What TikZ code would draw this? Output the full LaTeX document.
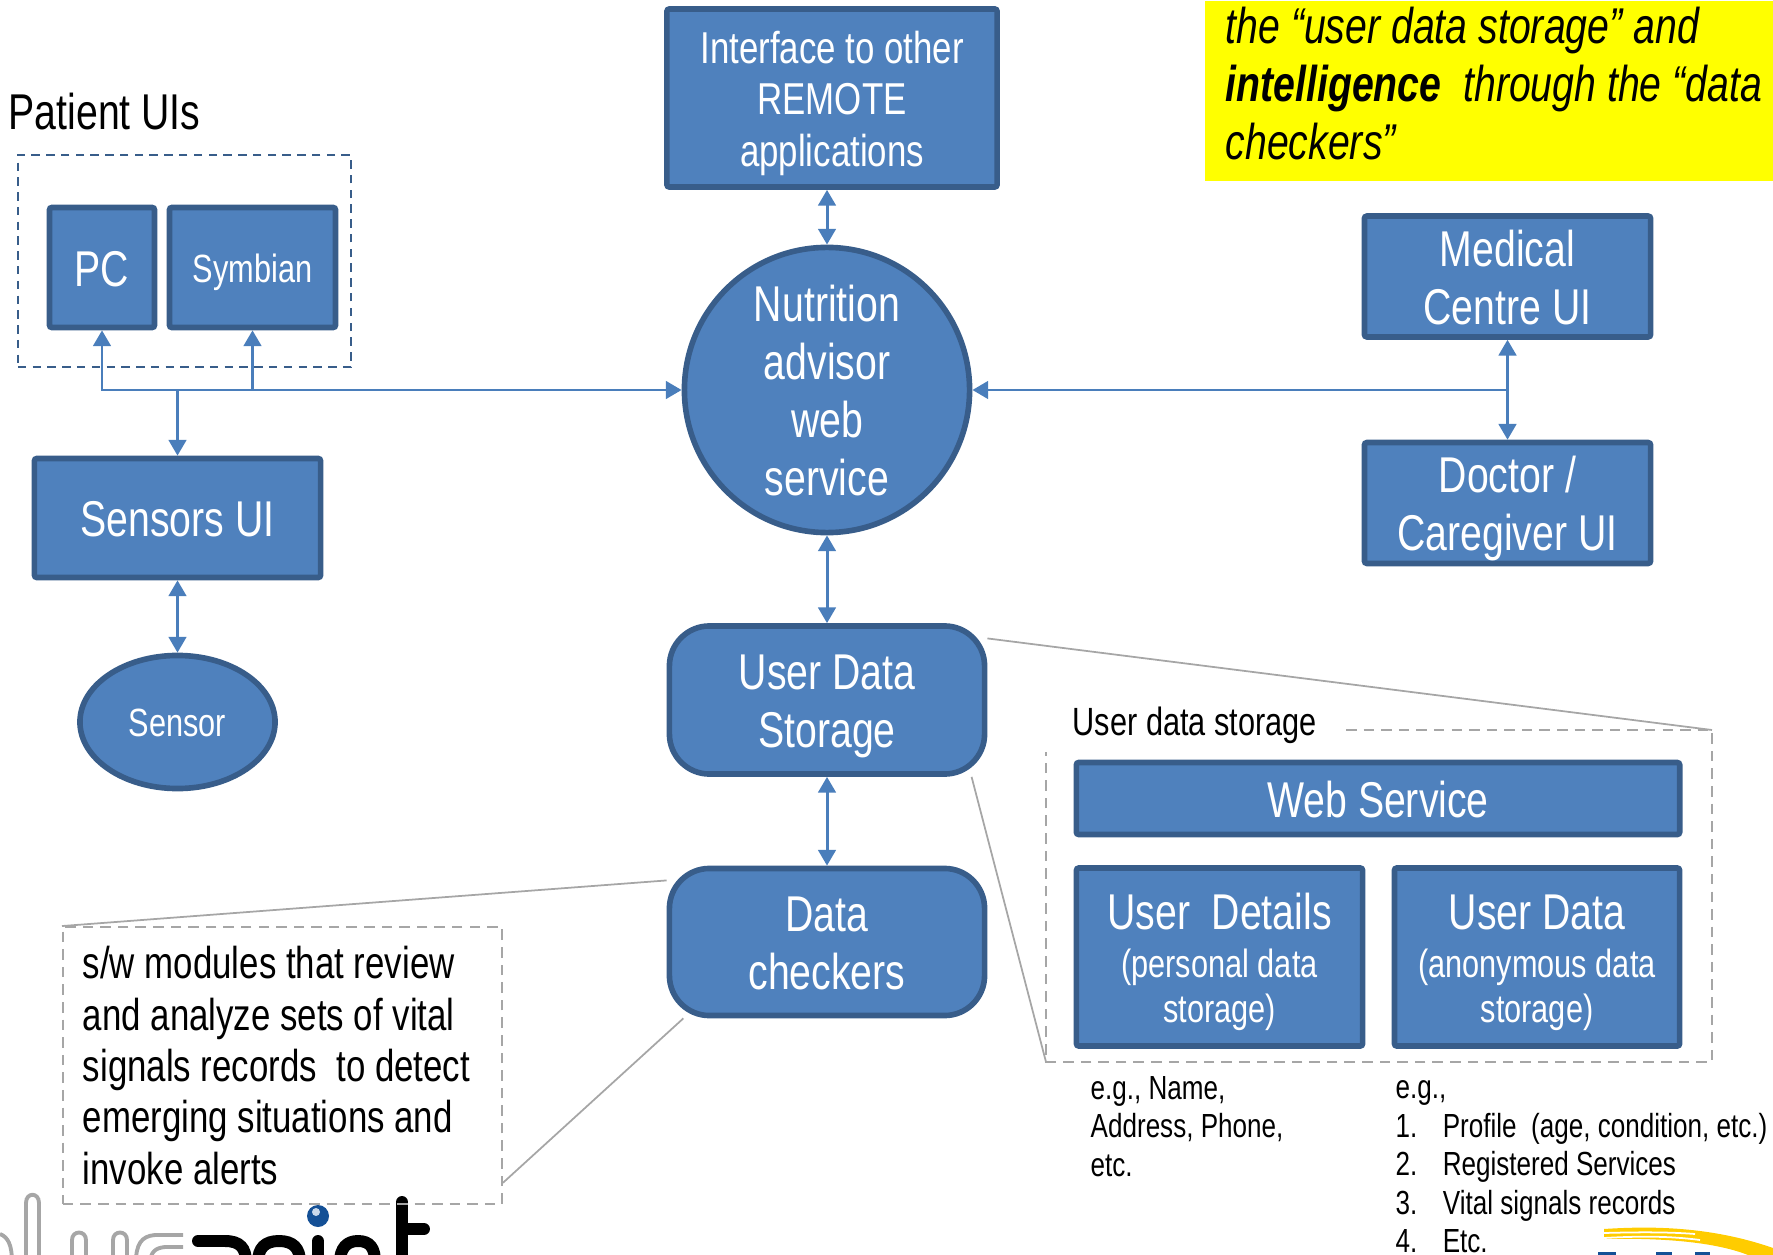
\documentclass[tikz,border=0pt]{standalone}
\usepackage{fontspec}
\setmainfont[FakeStretch=0.78]{Liberation Sans}
\usetikzlibrary{arrows.meta,shapes.geometric}
\definecolor{boxfill}{RGB}{79,129,189}
\definecolor{boxline}{RGB}{56,93,138}
\definecolor{linkline}{RGB}{74,126,187}
\definecolor{calloutline}{RGB}{166,166,166}
\definecolor{notefill}{RGB}{255,255,0}
\definecolor{swoosh}{RGB}{255,204,0}
\definecolor{logoblue}{RGB}{20,80,150}
\newcommand{\bigtxt}{\fontsize{14.3}{16.5}\selectfont}
\newcommand{\midtxt}{\fontsize{12.7}{14.6}\selectfont}
\newcommand{\smalltxt}{\fontsize{11.2}{12.8}\selectfont}
\newcommand{\listtxt}{\fontsize{9.5}{10.93}\selectfont}
\newcommand{\boxstrut}{\rule[-.25em]{0pt}{1.25em}}
\begin{document}
\begin{tikzpicture}[x=0.01cm,y=-0.01cm,>={Triangle[width=5pt,length=4.5pt]},
    box/.style={rectangle,rounded corners=0.7pt,draw=boxline,line width=1.6pt,fill=boxfill,text=white,align=center,inner sep=0pt,font=\bigtxt,
        execute at begin node=\boxstrut},
    roundbox/.style={box,rounded corners=0.4cm,minimum width=3.15cm},
    link/.style={draw=linkline,line width=0.85pt},
    callout/.style={draw=calloutline,line width=0.5pt},
    frame/.style={callout,dash pattern=on 3pt off 2pt},
    logoline/.style={calloutline,line width=1.1pt},
    logotext/.style={black,line width=3.4pt}]
    \useasboundingbox (0,0) rectangle (1773,1255);
    \begin{scope}
        \clip (0,1190) rectangle (1773,1255);
        \draw [logoline] (26,1262) -- (26,1203) .. controls (26,1192) and (39,1192) .. (39,1203) -- (39,1262);
        \draw [logoline] (0,1234) .. controls (8,1237) and (12,1245) .. (12,1262);
        \draw [logoline] (72,1262) -- (72,1240) .. controls (72,1230) and (86,1230) .. (86,1240) -- (86,1262);
        \draw [logoline] (113,1262) -- (113,1240) .. controls (113,1230) and (127,1230) .. (127,1240) -- (127,1262);
        \draw [logoline] (183,1235) -- (155,1235) .. controls (141,1236) and (136,1245) .. (136,1262);
        \draw [logoline] (183,1247) -- (165,1247) .. controls (155,1248) and (151,1252) .. (150,1262);
        \draw [logotext,line cap=round] (198,1241) -- (225,1241) .. controls (240,1241) and (246,1248) .. (246,1262);
        \draw [logotext] (258,1262) .. controls (258,1248) and (265,1241) .. (279,1241) .. controls (293,1241) and (300,1248) .. (300,1262);
        \draw [logotext,line cap=round] (318,1241) -- (318,1262);
        \draw [logotext] (340,1262) .. controls (340,1248) and (347,1241) .. (358,1241) .. controls (370,1241) and (375,1248) .. (375,1262);
        \draw [logotext,line cap=round] (402,1202) -- (402,1262);
        \draw [logotext,line cap=round] (402,1229) -- (424,1229);
        \fill [logoblue] (318,1216) circle (11);
        \fill [white!70!boxfill] (316,1212) circle (4);
        \fill [swoosh] (1604,1229) .. controls (1650,1226) and (1710,1226) .. (1773,1248) -- (1773,1255) -- (1748,1255) .. controls (1710,1240) and (1650,1238) .. (1604,1239) -- cycle;
        \draw [white,line width=0.5pt] (1604,1233) .. controls (1640,1232) and (1670,1232) .. (1695,1234);
        \draw [white,line width=0.5pt] (1604,1238) .. controls (1640,1236) and (1670,1236) .. (1700,1240);
        \fill [logoblue] (1598,1252) rectangle (1616,1255);
        \fill [logoblue] (1656,1252) rectangle (1672,1255);
        \fill [logoblue] (1695,1252) rectangle (1710,1255);
    \end{scope}
    \node [rectangle,fill=notefill,anchor=north west,minimum width=5.69cm,minimum height=1.8cm,inner xsep=0.21cm,inner ysep=0pt,text width=5.27cm,align=flush left,font=\bigtxt\itshape] (note) at (1204,0) {the “user data storage” and\\\mbox{\textbf{intelligence}\ \ through the “data}\\checkers”\rule[-.3em]{0pt}{0pt}};
    \node [rectangle,draw=boxline,line width=0.6pt,dash pattern=on 2.4pt off 1.8pt,minimum width=3.33cm,minimum height=2.12cm] (patientframe) at (184.5,261) {};
    \node [anchor=west,inner sep=0pt,font=\bigtxt] (patient) at (8,112) {Patient UIs};
    \node [box,font=\midtxt,minimum width=3.3cm,minimum height=1.78cm] (interface) at (832,98) {\boxstrut Interface to other\\REMOTE\\applications};
    \node [box,circle,minimum size=2.85cm] (nutrition) at (827,390) {\boxstrut Nutrition\\advisor\\web\\service};
    \node [box,minimum width=1.05cm,minimum height=1.2cm] (pc) at (102,267.5) {PC};
    \node [box,font=\smalltxt,minimum width=1.66cm,minimum height=1.2cm] (symbian) at (252.5,267.5) {Symbian};
    \node [box,minimum width=2.86cm,minimum height=1.19cm] (sensors) at (177.5,518) {Sensors UI};
    \node [box,ellipse,font=\smalltxt,minimum width=1.95cm,minimum height=1.33cm] (sensor) at (177.5,722) {Sensor};
    \node [box,minimum width=2.86cm,minimum height=1.18cm] (medical) at (1507.5,276.5) {\boxstrut Medical\\Centre UI};
    \node [box,minimum width=2.86cm,minimum height=1.17cm] (doctor) at (1507.5,503) {\boxstrut Doctor /\\Caregiver UI};
    \node [roundbox,minimum height=1.48cm] (storage) at (827,700) {\boxstrut User Data\\Storage};
    \node [roundbox,minimum height=1.47cm] (checkers) at (827,942) {\boxstrut Data\\checkers};
    \node [anchor=west,inner sep=0pt,font=\smalltxt] (storagelabel) at (1072,725) {User data storage};
    \node [box,minimum width=6.03cm,minimum height=0.72cm] (web) at (1378,798.5) {Web Service};
    \node [box,minimum width=2.86cm,minimum height=1.78cm] (details) at (1219.5,957) {\boxstrut User\ \ Details\\[-3pt]\smalltxt (personal data\\[-3.7pt]\smalltxt storage)};
    \node [box,minimum width=2.85cm,minimum height=1.78cm] (userdata) at (1537,957) {\boxstrut User Data\\[-3pt]\smalltxt (anonymous data\\[-3.7pt]\smalltxt storage)};
    \node [rectangle,frame,minimum height=2.77cm,inner xsep=0.2cm,inner ysep=0pt,text width=3.99cm,align=flush left,font=\fontsize{12.7}{14.6}\selectfont] (signals) at (282.5,1065.5) {s/w modules that review\\and analyze sets of vital\\signals records\ \ to detect\\emerging situations and\\invoke alerts};
    \node [anchor=north west,inner sep=0pt,align=left,font=\listtxt] (detailslist) at (1090,1075.5) {e.g., Name,\\Address, Phone,\\etc.};
    \node [anchor=north west,inner sep=0pt,align=left,font=\listtxt] (datalist) at (1395,1080) {e.g.,\\\makebox[13.4pt][l]{1.}Profile\ \ (age, condition, etc.)\\\makebox[13.4pt][l]{2.}Registered Services\\\makebox[13.4pt][l]{3.}Vital signals records\\\makebox[13.4pt][l]{4.}Etc.};
    \coordinate (framestart) at (1346,730);
    \coordinate (framene) at (1712,730);
    \coordinate (framese) at (1712,1062);
    \coordinate (framesw) at (1046,1062);
    \coordinate (frameend) at (1046,752);
    \draw [frame] (framestart) -- (framene) -- (framese) -- (framesw) -- (frameend);
    \draw [callout] (storage.21) -- (framene);
    \draw [callout] (storage.-28) -- (framesw);
    \draw [callout] (signals.north west) -- (checkers.159);
    \draw [callout] (signals.-28) -- (checkers.208);
    \draw [link,<->] (interface.south -| nutrition.north) -- (nutrition.north);
    \draw [link,<->] (pc.south) |- (nutrition.west);
    \draw [link,->] (symbian.south |- nutrition.west) -- (symbian.south);
    \draw [link,->] (sensors.north |- nutrition.west) -- (sensors.north);
    \draw [link,<->] (sensors.south) -- (sensor.north);
    \draw [link,->] (medical.south |- nutrition.east) -- (nutrition.east);
    \draw [link,<->] (medical.south) -- (doctor.north);
    \draw [link,<->] (nutrition.south) -- (storage.north);
    \draw [link,<->] (storage.south) -- (checkers.north);
\end{tikzpicture}
\end{document}
